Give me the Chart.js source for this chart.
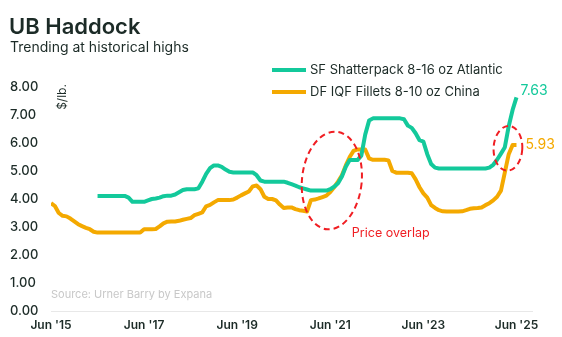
<!DOCTYPE html>
<html lang="en">
<head>
<meta charset="UTF-8">
<title>UB Haddock</title>
<script src="https://cdn.jsdelivr.net/npm/chart.js@4.4.1/dist/chart.umd.min.js"></script>
<style>
  html, body {margin: 0; padding: 0; background: #fff;}
  #wrap {width: 562px; height: 337px;}
</style>
</head>
<body>
<div id="wrap"><canvas id="haddockChart" width="562" height="337"></canvas></div>
<script>
// monthly prices in $/lb., index 0 = Jun 2015, index 120 = Jun 2025
const tickLabels = ["Jun '15", "Jun '17", "Jun '19", "Jun '21", "Jun '23", "Jun '25"];
const seriesNames = ['SF Shatterpack 8-16 oz Atlantic', 'DF IQF Fillets 8-10 oz China'];

const sfAtlantic = [
  null, null, null, null, null, null, null, null, null, null, null, null,
  4.11, 4.11, 4.11, 4.11, 4.11, 4.11, 4.11, 4.11, 4.05, 3.90, 3.90, 3.90,
  3.90, 3.95, 4.00, 4.02, 4.05, 4.10, 4.12, 4.12, 4.16, 4.24, 4.32, 4.35,
  4.35, 4.35, 4.38, 4.62, 4.90, 5.10, 5.20, 5.20, 5.15, 5.05, 4.97, 4.95,
  4.95, 4.95, 4.95, 4.95, 4.95, 4.85, 4.66, 4.62, 4.62, 4.62, 4.62, 4.62,
  4.62, 4.58, 4.53, 4.48, 4.42, 4.38, 4.34, 4.30, 4.30, 4.30, 4.30, 4.30,
  4.35, 4.44, 4.56, 4.80, 5.15, 5.39, 5.39, 5.39, 5.55, 6.30, 6.80, 6.88,
  6.88, 6.88, 6.88, 6.88, 6.88, 6.88, 6.88, 6.85, 6.62, 6.54, 6.35, 6.10,
  6.05, 5.60, 5.25, 5.12, 5.09, 5.09, 5.09, 5.09, 5.09, 5.09, 5.09, 5.09,
  5.09, 5.09, 5.09, 5.09, 5.09, 5.12, 5.22, 5.40, 5.62, 5.85, 6.60, 7.18,
  7.63
];

const dfChina = [
  3.85, 3.75, 3.50, 3.40, 3.38, 3.30, 3.20, 3.10, 3.03, 2.97, 2.92, 2.83,
  2.80, 2.80, 2.80, 2.80, 2.80, 2.80, 2.80, 2.80, 2.80, 2.80, 2.80, 2.80,
  2.92, 2.92, 2.92, 2.93, 3.02, 3.13, 3.19, 3.20, 3.20, 3.22, 3.26, 3.29,
  3.32, 3.42, 3.47, 3.52, 3.74, 3.79, 3.88, 3.96, 3.96, 3.96, 3.96, 3.98,
  4.05, 4.13, 4.20, 4.27, 4.45, 4.48, 4.35, 4.08, 4.00, 4.00, 3.95, 3.80,
  3.68, 3.70, 3.70, 3.64, 3.60, 3.58, 3.55, 3.96, 3.98, 4.02, 4.07, 4.12,
  4.25, 4.42, 4.62, 4.85, 5.20, 5.50, 5.72, 5.77, 5.77, 5.77, 5.45, 5.40,
  5.40, 5.40, 5.40, 5.38, 5.00, 4.94, 4.94, 4.94, 4.94, 4.92, 4.70, 4.42,
  4.20, 4.05, 3.78, 3.68, 3.60, 3.56, 3.55, 3.55, 3.55, 3.55, 3.56, 3.60,
  3.65, 3.67, 3.68, 3.70, 3.78, 3.85, 3.95, 4.08, 4.30, 4.95, 5.60, 5.93,
  5.93
];

const GREEN = '#13c99b';
const ORANGE = '#f4a900';
const RED = '#f01e23';
const INK = '#1c2b27';
const FONT = 'Inter, "Noto Sans", sans-serif';

// red dashed rings around the crossover zones (month, price, radii in month / price units)
const overlapRings = [
  {m: 72.4, v: 4.66, rm: 7.7, rv: 1.75, tilt: 0.1},
  {m: 117.8, v: 5.81, rm: 3.7, rv: 0.8, tilt: 0.05}
];

const toPoints = arr => arr.map((v, i) => ({x: i, y: v}));

const decorations = {
  id: 'decorations',
  afterDatasetsDraw(chart) {
    const {ctx, scales: {x, y}} = chart;
    ctx.save();

    // title block
    ctx.fillStyle = INK;
    ctx.textAlign = 'left';
    ctx.textBaseline = 'alphabetic';
    ctx.font = '600 22px ' + FONT;
    ctx.fillText('UB Haddock', 9, 34);
    ctx.font = '400 14px ' + FONT;
    ctx.fillText('Trending at historical highs', 10, 52);

    // unit label
    ctx.save();
    ctx.translate(62, 97);
    ctx.rotate(-Math.PI / 2);
    ctx.textAlign = 'center';
    ctx.textBaseline = 'middle';
    ctx.font = '400 12px ' + FONT;
    ctx.fillText('$/lb.', 0, 0);
    ctx.restore();

    // legend
    const legendRows = [[GREEN, 70], [ORANGE, 92]];
    ctx.lineWidth = 4;
    ctx.textBaseline = 'middle';
    ctx.font = '400 13px ' + FONT;
    legendRows.forEach(([color, ly], i) => {
      ctx.strokeStyle = color;
      ctx.beginPath();
      ctx.moveTo(272, ly);
      ctx.lineTo(306, ly);
      ctx.stroke();
      ctx.fillStyle = INK;
      ctx.fillText(seriesNames[i], 310, ly);
    });

    // source note
    ctx.fillStyle = '#c8c8c8';
    ctx.font = '400 11px ' + FONT;
    ctx.fillText('Source: Urner Barry by Expana', 51, 295);

    // end-of-series values
    const last = dfChina.length - 1;
    ctx.font = '400 14px ' + FONT;
    ctx.fillStyle = GREEN;
    ctx.fillText(sfAtlantic[last].toFixed(2), x.getPixelForValue(last) + 4, y.getPixelForValue(sfAtlantic[last]) - 7);
    ctx.fillStyle = ORANGE;
    ctx.fillText(dfChina[last].toFixed(2), x.getPixelForValue(last) + 9, y.getPixelForValue(dfChina[last]));

    // overlap rings
    ctx.strokeStyle = RED;
    ctx.lineWidth = 2;
    ctx.setLineDash([6, 4]);
    overlapRings.forEach(r => {
      const cx = x.getPixelForValue(r.m);
      const cy = y.getPixelForValue(r.v);
      const rx = x.getPixelForValue(r.m + r.rm) - cx;
      const ry = cy - y.getPixelForValue(r.v + r.rv);
      ctx.beginPath();
      ctx.ellipse(cx, cy, rx, ry, r.tilt, 0, Math.PI * 2);
      ctx.stroke();
    });
    ctx.setLineDash([]);

    const r0 = overlapRings[0];
    ctx.fillStyle = RED;
    ctx.font = '400 12.5px ' + FONT;
    ctx.fillText('Price overlap', x.getPixelForValue(r0.m) + 20, y.getPixelForValue(r0.v - r0.rv) + 4);

    ctx.restore();
  }
};

new Chart(document.getElementById('haddockChart'), {
  type: 'line',
  data: {
    datasets: [
      {label: seriesNames[0], data: toPoints(sfAtlantic), borderColor: GREEN},
      {label: seriesNames[1], data: toPoints(dfChina), borderColor: ORANGE}
    ]
  },
  options: {
    responsive: false,
    animation: false,
    layout: {padding: {left: 10, right: 30, top: 87, bottom: 0}},
    elements: {
      line: {borderWidth: 4, tension: 0, borderJoinStyle: 'round', fill: false},
      point: {radius: 0}
    },
    plugins: {legend: {display: false}, tooltip: {enabled: false}},
    scales: {
      x: {
        type: 'linear',
        min: 0,
        max: 124,
        grid: {display: false, drawTicks: false},
        border: {display: true, color: '#e8e8e8', width: 1},
        afterBuildTicks: s => { s.ticks = tickLabels.map((t, i) => ({value: i * 24})); },
        afterFit: s => { s.height = 26; },
        ticks: {
          padding: 7,
          maxRotation: 0,
          color: INK,
          font: {family: FONT, size: 12, weight: '600'},
          callback: v => tickLabels[v / 24]
        }
      },
      y: {
        min: 0,
        max: 8,
        grid: {display: false, drawTicks: false},
        border: {display: false},
        afterFit: s => { s.width = 41; },
        ticks: {
          stepSize: 1,
          crossAlign: 'far',
          color: INK,
          font: {family: FONT, size: 13, weight: '500'},
          callback: v => v.toFixed(2)
        }
      }
    }
  },
  plugins: [decorations]
});
</script>
</body>
</html>
